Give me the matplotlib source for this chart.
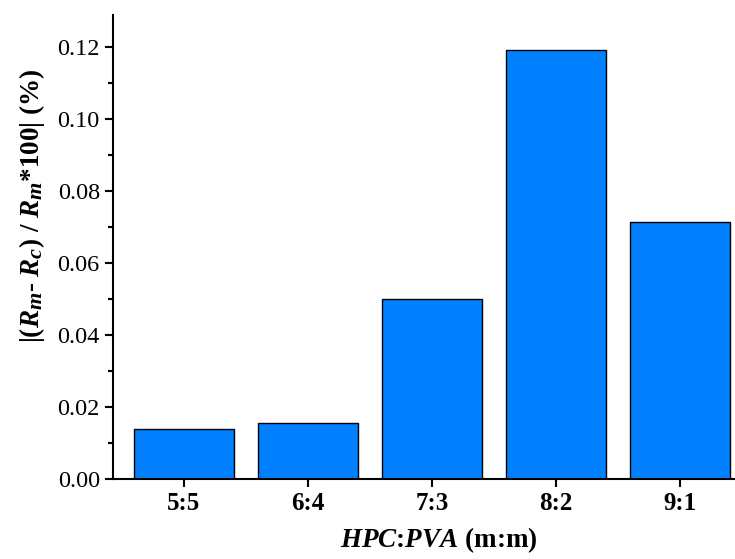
import matplotlib
matplotlib.use("Agg")
import matplotlib.pyplot as plt
import matplotlib._mathtext as mathtext_internal
from matplotlib.ticker import MultipleLocator

# ratios and relative deviation values
ratios = ["5:5", "6:4", "7:3", "8:2", "9:1"]
deviation = [0.0139, 0.0155, 0.0500, 0.1191, 0.0713]

plt.rcParams["font.family"] = ["Liberation Serif", "DejaVu Serif"]
plt.rcParams["mathtext.fontset"] = "custom"
plt.rcParams["mathtext.rm"] = "Liberation Serif:bold"
plt.rcParams["mathtext.it"] = "Liberation Serif:bold:italic"
plt.rcParams["mathtext.bf"] = "Liberation Serif:bold"
# bigger subscripts, like the original figure
mathtext_internal.SHRINK_FACTOR = 0.82

fig = plt.figure(figsize=(7.35, 5.59), dpi=100)
ax = fig.add_axes([0.1537, 0.1431, 0.8463, 0.8301])

x = range(len(ratios))
ax.bar(x, deviation, width=0.8, color="#0080ff", edgecolor="black", linewidth=1.0)

ax.set_xlim(-0.5726, 4.444)
ax.set_ylim(0, 0.1288)
ax.set_xticks(list(x))
ax.set_xticklabels(ratios, fontweight="bold")
ax.yaxis.set_major_locator(MultipleLocator(0.02))
ax.yaxis.set_minor_locator(MultipleLocator(0.01))
ax.yaxis.set_major_formatter(plt.FormatStrFormatter("%.2f"))

for side in ["top", "right"]:
    ax.spines[side].set_visible(False)
for side in ["left", "bottom"]:
    ax.spines[side].set_linewidth(1.5)

ax.tick_params(axis="both", which="major", direction="out", length=6, width=1.5,
               labelsize=17.5)
ax.tick_params(axis="x", which="major", labelsize=18)
ax.tick_params(axis="y", which="minor", direction="out", length=3.5, width=1.5)
ax.tick_params(axis="x", which="minor", bottom=False)

ax.set_ylabel("|($R_m$- $R_c$) / $R_m$*100| (%)", fontsize=19.5, fontweight="bold")
ax.yaxis.set_label_coords(-0.106, 0.59)
ax.set_xlabel("$HPC$:$PVA$ (m:m)", fontsize=19.5, fontweight="bold")
ax.xaxis.set_label_coords(0.524, -0.1)

fig.savefig("out.png", dpi=100)
